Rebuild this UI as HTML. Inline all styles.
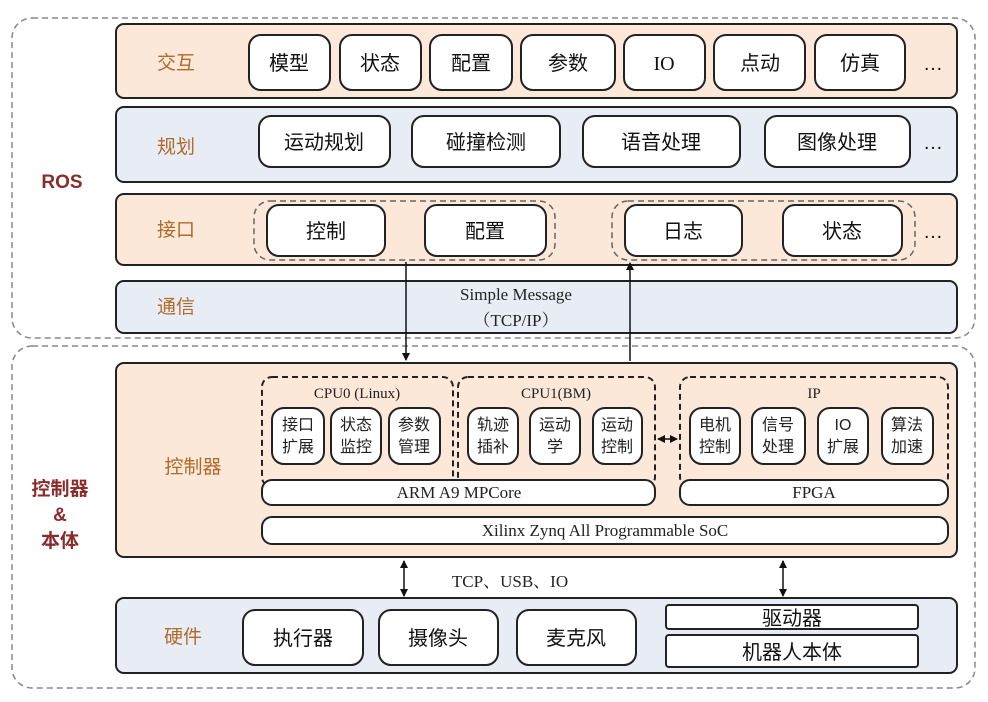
<!DOCTYPE html>
<html><head><meta charset="utf-8"><style>
body{margin:0;background:#fff;}
svg text{font-family:"Liberation Sans","Noto Sans CJK SC",sans-serif;}
.s{font-family:"Liberation Serif","Noto Serif CJK SC",serif !important;}
</style></head><body>
<svg width="988" height="697" viewBox="0 0 988 697" xmlns="http://www.w3.org/2000/svg">
<defs>
<marker id="a" markerWidth="8" markerHeight="8" refX="7" refY="4" orient="auto" markerUnits="userSpaceOnUse"><path d="M0,0 L8,4 L0,8 z" fill="#111"/></marker>
<marker id="b" markerWidth="8" markerHeight="8" refX="1" refY="4" orient="auto" markerUnits="userSpaceOnUse"><path d="M8,0 L0,4 L8,8 z" fill="#111"/></marker>
</defs>
<g fill="none" stroke="#888" stroke-width="1.5" stroke-dasharray="6,4">
<rect x="12" y="18" width="963" height="320" rx="20"/>
<rect x="12" y="346" width="963" height="342" rx="20"/>
</g>
<text x="62" y="188" font-size="19" font-weight="bold" fill="#8b2b2b" text-anchor="middle">ROS</text>
<text x="60" y="495" font-size="19" font-weight="bold" fill="#8b2b2b" text-anchor="middle">控制器</text>
<text x="60" y="521" font-size="19" font-weight="bold" fill="#8b2b2b" text-anchor="middle">&amp;</text>
<text x="60" y="547" font-size="19" font-weight="bold" fill="#8b2b2b" text-anchor="middle">本体</text>

<g stroke="#222" stroke-width="2">
<rect x="116" y="24" width="841" height="74" rx="8" fill="#fbe8d9"/>
<rect x="116" y="107" width="841" height="75" rx="8" fill="#e8edf5"/>
<rect x="116" y="194" width="841" height="71" rx="8" fill="#fbe8d9"/>
<rect x="116" y="281" width="841" height="52" rx="8" fill="#e8edf5"/>
<rect x="116" y="363" width="841" height="194" rx="8" fill="#fbe8d9"/>
<rect x="116" y="598" width="841" height="75" rx="8" fill="#e8edf5"/>
</g>
<g font-size="19" fill="#b06a2a" text-anchor="middle">
<text x="176" y="69">交互</text><text x="176" y="153">规划</text><text x="176" y="236">接口</text>
<text x="176" y="313">通信</text><text x="193" y="473">控制器</text><text x="183" y="643">硬件</text>
</g>
<g fill="#fff" stroke="#222" stroke-width="2">
<rect x="249" y="35" width="81" height="55" rx="12"/><rect x="340" y="35" width="81" height="55" rx="12"/>
<rect x="430" y="35" width="82" height="55" rx="12"/><rect x="521" y="35" width="94" height="55" rx="12"/>
<rect x="624" y="35" width="81" height="55" rx="12"/><rect x="714" y="35" width="91" height="55" rx="12"/>
<rect x="815" y="35" width="90" height="55" rx="12"/>
<rect x="259" y="116" width="131" height="51" rx="12"/><rect x="412" y="116" width="148" height="51" rx="12"/>
<rect x="583" y="116" width="157" height="51" rx="12"/><rect x="765" y="116" width="145" height="51" rx="12"/>
</g>
<g fill="none" stroke="#666" stroke-width="1.5" stroke-dasharray="6,4">
<rect x="254" y="201" width="301" height="59" rx="16"/><rect x="612" y="201" width="303" height="59" rx="16"/>
</g>
<g fill="#fff" stroke="#222" stroke-width="2">
<rect x="267" y="205" width="118" height="51" rx="12"/><rect x="425" y="205" width="121" height="51" rx="12"/>
<rect x="625" y="205" width="117" height="51" rx="12"/><rect x="783" y="205" width="119" height="51" rx="12"/>
</g>
<g font-size="20" fill="#111" text-anchor="middle">
<text x="289" y="70">模型</text><text x="380" y="70">状态</text><text x="471" y="70">配置</text><text x="568" y="70">参数</text>
<text x="664" y="70" class="s">IO</text><text x="760" y="70">点动</text><text x="860" y="70">仿真</text>
<text x="933" y="70">…</text>
<text x="324" y="149">运动规划</text><text x="486" y="149">碰撞检测</text><text x="661" y="149">语音处理</text><text x="837" y="149">图像处理</text>
<text x="933" y="149">…</text>
<text x="326" y="238">控制</text><text x="485" y="238">配置</text><text x="683" y="238">日志</text><text x="842" y="238">状态</text>
<text x="933" y="238">…</text>
</g>
<g font-size="17" fill="#222" text-anchor="middle" class="s">
<text x="516" y="300" class="s">Simple Message</text><text x="516" y="326" class="s">（TCP/IP）</text>
</g>
<line x1="406" y1="262" x2="406" y2="360" stroke="#111" stroke-width="1.5" marker-end="url(#a)"/>
<line x1="630" y1="361" x2="630" y2="263" stroke="#111" stroke-width="1.5" marker-end="url(#a)"/>

<g fill="none" stroke="#222" stroke-width="2" stroke-dasharray="6,4">
<rect x="262" y="377" width="191" height="110" rx="10"/><rect x="458" y="377" width="197" height="110" rx="10"/>
<rect x="680" y="377" width="268" height="110" rx="10"/>
</g>
<g font-size="15" fill="#222" text-anchor="middle">
<text x="357" y="398" class="s">CPU0 (Linux)</text><text x="556" y="398" class="s">CPU1(BM)</text><text x="814" y="398" class="s">IP</text>
</g>
<g fill="#fff" stroke="#222" stroke-width="2">
<rect x="272" y="408" width="52" height="56" rx="12"/><rect x="331" y="408" width="50" height="56" rx="12"/><rect x="389" y="408" width="51" height="56" rx="12"/>
<rect x="468" y="408" width="50" height="56" rx="12"/><rect x="530" y="408" width="50" height="56" rx="12"/><rect x="593" y="408" width="49" height="56" rx="12"/>
<rect x="690" y="408" width="50" height="56" rx="12"/><rect x="752" y="408" width="53" height="56" rx="12"/><rect x="818" y="408" width="50" height="56" rx="12"/><rect x="882" y="408" width="51" height="56" rx="12"/>
<rect x="262" y="480" width="393" height="25" rx="10"/><rect x="680" y="480" width="268" height="25" rx="10"/>
<rect x="262" y="517" width="686" height="27" rx="10"/>
</g>
<g font-size="16" fill="#222" text-anchor="middle">
<text x="298" y="430">接口</text><text x="298" y="452">扩展</text>
<text x="356" y="430">状态</text><text x="356" y="452">监控</text>
<text x="414" y="430">参数</text><text x="414" y="452">管理</text>
<text x="493" y="430">轨迹</text><text x="493" y="452">插补</text>
<text x="555" y="430">运动</text><text x="555" y="452">学</text>
<text x="617" y="430">运动</text><text x="617" y="452">控制</text>
<text x="715" y="430">电机</text><text x="715" y="452">控制</text>
<text x="778" y="430">信号</text><text x="778" y="452">处理</text>
<text x="843" y="430">IO</text><text x="843" y="452">扩展</text>
<text x="907" y="430">算法</text><text x="907" y="452">加速</text>
</g>
<line x1="658" y1="439" x2="677" y2="439" stroke="#111" stroke-width="1.5" marker-start="url(#b)" marker-end="url(#a)"/>
<g font-size="17" fill="#222" text-anchor="middle">
<text x="459" y="498" class="s">ARM A9 MPCore</text><text x="814" y="498" class="s">FPGA</text>
<text x="605" y="536" class="s">Xilinx Zynq All Programmable SoC</text>
<text x="510" y="587" class="s">TCP、USB、IO</text>
</g>
<line x1="404" y1="561" x2="404" y2="596" stroke="#111" stroke-width="1.5" marker-start="url(#b)" marker-end="url(#a)"/>
<line x1="783" y1="561" x2="783" y2="596" stroke="#111" stroke-width="1.5" marker-start="url(#b)" marker-end="url(#a)"/>

<g fill="#fff" stroke="#222" stroke-width="2">
<rect x="243" y="610" width="120" height="55" rx="12"/><rect x="379" y="610" width="119" height="55" rx="12"/>
<rect x="517" y="610" width="119" height="55" rx="12"/>
<rect x="666" y="605" width="252" height="24" rx="3"/><rect x="666" y="635" width="252" height="32" rx="3"/>
</g>
<g font-size="20" fill="#111" text-anchor="middle">
<text x="303" y="645">执行器</text><text x="438" y="645">摄像头</text><text x="576" y="645">麦克风</text>
<text x="792" y="625">驱动器</text><text x="792" y="659">机器人本体</text>
</g>
</svg>
</body></html>
